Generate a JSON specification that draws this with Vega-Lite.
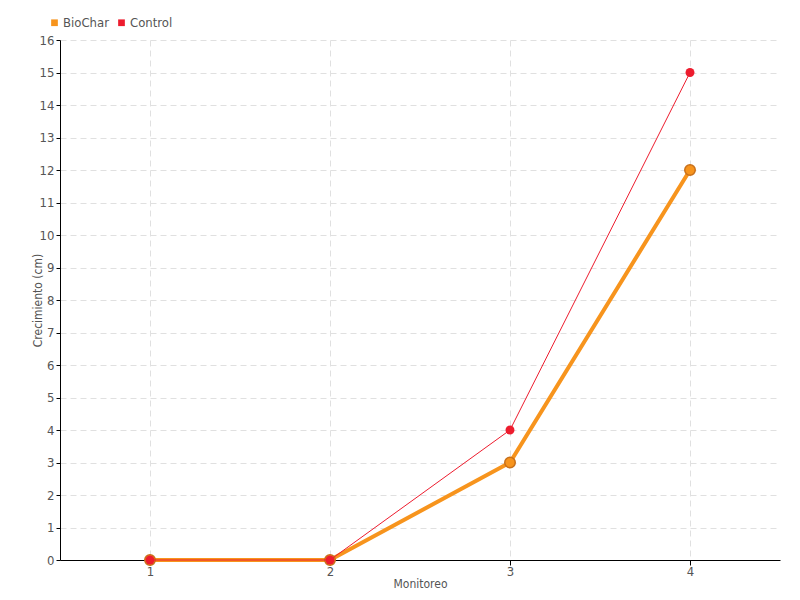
{
  "$schema": "https://vega.github.io/schema/vega-lite/v6.json",
  "autosize": "none",
  "width": 720,
  "height": 520,
  "padding": {"left": 60, "top": 40, "right": 20, "bottom": 40},
  "background": "white",
  "config": {
    "font": "DejaVu Sans Condensed, Roboto, sans-serif",
    "view": {"stroke": null},
    "axis": {
      "labelFont": "DejaVu Sans Condensed, Roboto, sans-serif",
      "titleFont": "DejaVu Sans Condensed, Roboto, sans-serif",
      "labelFontSize": 13,
      "labelColor": "#555555",
      "titleFontSize": 12,
      "titleFontWeight": "normal",
      "titleColor": "#555555",
      "domainColor": "#000000",
      "tickColor": "#000000",
      "gridColor": "#e0e0e0",
      "gridDash": [6, 4]
    },
    "legend": {"labelFont": "DejaVu Sans Condensed, Roboto, sans-serif", "labelFontSize": 13, "labelColor": "#555555"}
  },
  "data": {
    "values": [
      {"Monitoreo": 1, "serie": "BioChar", "valor": 0},
      {"Monitoreo": 2, "serie": "BioChar", "valor": 0},
      {"Monitoreo": 3, "serie": "BioChar", "valor": 3},
      {"Monitoreo": 4, "serie": "BioChar", "valor": 12},
      {"Monitoreo": 1, "serie": "Control", "valor": 0},
      {"Monitoreo": 2, "serie": "Control", "valor": 0},
      {"Monitoreo": 3, "serie": "Control", "valor": 4},
      {"Monitoreo": 4, "serie": "Control", "valor": 15}
    ]
  },
  "encoding": {
    "x": {
      "field": "Monitoreo", "type": "quantitative",
      "scale": {"domain": [0.5, 4.5], "nice": false, "zero": false},
      "axis": {"values": [1, 2, 3, 4], "title": "Monitoreo", "grid": true, "tickSize": 5, "labelPadding": 0, "titlePadding": 0}
    },
    "y": {
      "field": "valor", "type": "quantitative",
      "scale": {"domain": [0, 16], "nice": false},
      "axis": {"values": [0,1,2,3,4,5,6,7,8,9,10,11,12,13,14,15,16], "title": "Crecimiento (cm)", "grid": true, "tickSize": 4, "labelPadding": 2, "titleX": -16}
    }
  },
  "layer": [
    {
      "transform": [{"filter": "datum.serie == 'BioChar'"}],
      "mark": {"type": "line", "strokeWidth": 4},
      "encoding": {
        "color": {
          "field": "serie", "type": "nominal",
          "scale": {"domain": ["BioChar", "Control"], "range": ["#f7941d", "#ed1c2e"]},
          "legend": {
            "title": null, "orient": "none", "legendX": -12, "legendY": -24, "direction": "horizontal",
            "symbolType": "square", "symbolSize": 45, "columnPadding": 6, "labelOffset": 2,
            "symbolStrokeWidth": 0,
            "encode": {"symbols": {"update": {"fill": {"scale": "color", "field": "value"}}}}
          }
        }
      }
    },
    {
      "transform": [{"filter": "datum.serie == 'BioChar'"}],
      "mark": {"type": "point", "filled": true, "size": 110, "fill": "#f7941d", "stroke": "#c8701a", "strokeWidth": 1.5, "opacity": 1},
      "encoding": {}
    },
    {
      "transform": [{"filter": "datum.serie == 'Control'"}],
      "mark": {"type": "line", "strokeWidth": 1},
      "encoding": {
        "color": {"field": "serie", "type": "nominal"}
      }
    },
    {
      "transform": [{"filter": "datum.serie == 'Control'"}],
      "mark": {"type": "point", "filled": true, "size": 80, "fill": "#ed1c2e", "opacity": 1},
      "encoding": {}
    }
  ]
}
